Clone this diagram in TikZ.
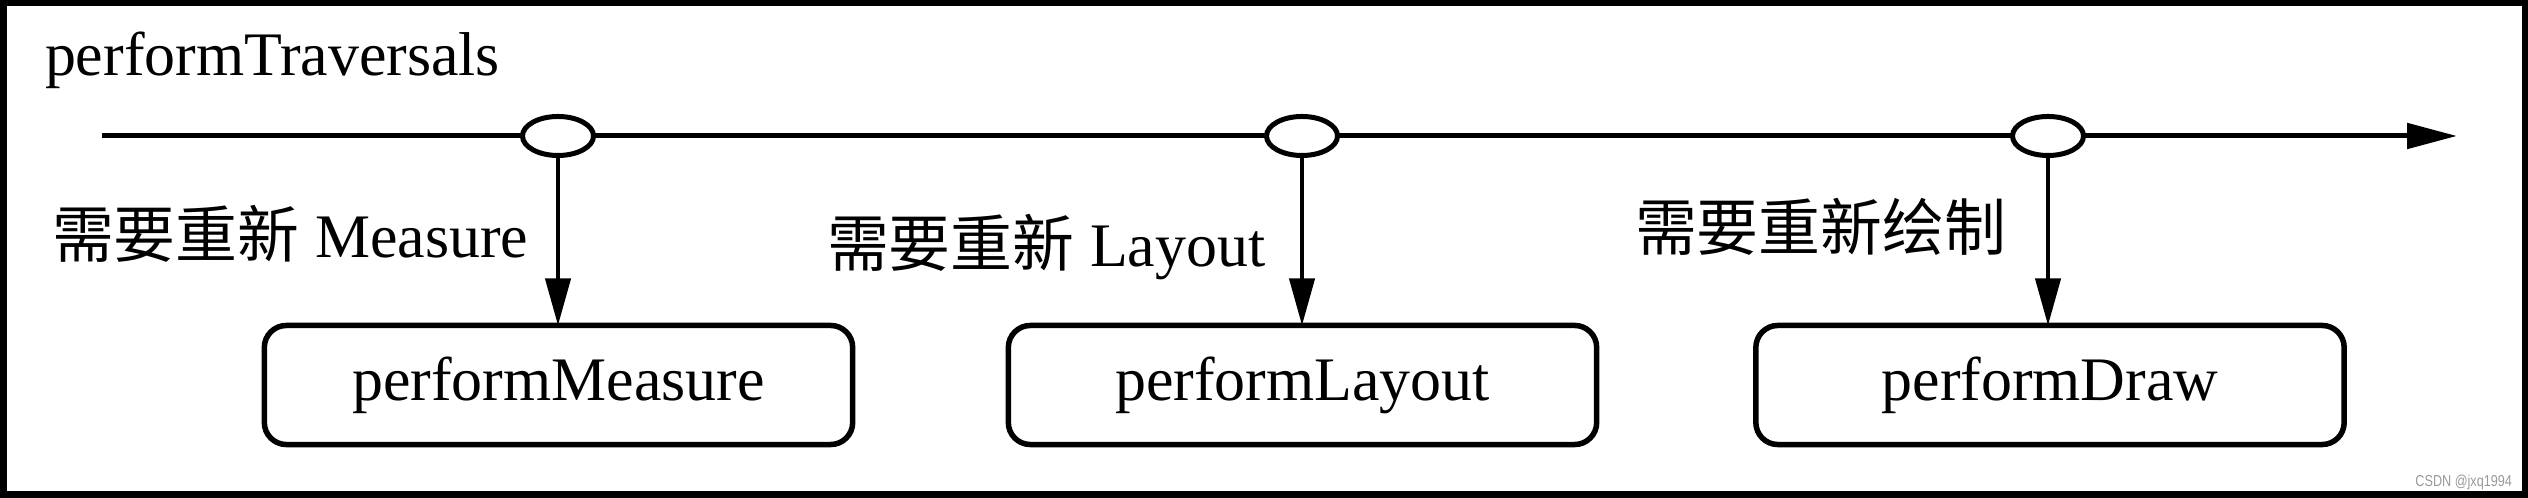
\documentclass[tikz,border=0pt]{standalone}
\usepackage{fontspec}
\setmainfont{Liberation Serif}
\newfontfamily\cjk{Noto Sans CJK SC}
\newfontfamily\wmfont{Liberation Sans}
\usetikzlibrary{arrows.meta,shapes.geometric}
\begin{document}
\begin{tikzpicture}[x=0.01cm,y=-0.01cm,
  every node/.style={inner sep=0pt, outer sep=0pt},
  txt/.style={font=\fontsize{17.6pt}{20pt}\selectfont},
  evt/.style={draw, fill=white, ellipse, line width=0.05cm, minimum width=0.71cm, minimum height=0.39cm},
  proc/.style={draw, rounded corners=0.22cm, line width=0.055cm, minimum width=5.88cm, minimum height=1.19cm, txt},
  flow/.style={line width=0.042cm, -{Triangle[length=0.47cm,width=0.25cm]}},
  axis/.style={line width=0.05cm, -{Triangle[length=0.50cm,width=0.25cm]}},
  frame/.style={line width=0.065cm}
]
\useasboundingbox (0,0) rectangle (2528,498);
\draw[frame] (3.25,3.25) rectangle (2524.75,494.75);

\node[txt, anchor=base west] (title) at (45,76) {performTraversals};

\coordinate (start) at (102,136);
\coordinate (end) at (2457,136);
\draw[axis] (start) -- (end);

\node[evt] (e1) at (558,136) {};
\node[evt] (e2) at (1302,136) {};
\node[evt] (e3) at (2048,136) {};

\node[proc] (b1) at (558.5,385) {performMeasure};
\node[proc] (b2) at (1302.5,385) {performLayout};
\node[proc] (b3) at (2050,385) {performDraw};

\draw[flow] (e1.south) -- (e1.south |- b1.north);
\draw[flow] (e2.south) -- (e2.south |- b2.north);
\draw[flow] (e3.south) -- (e3.south |- b3.north);

\node[txt, anchor=base west] (l1) at (52,258) {{\cjk 需要重新} Measure};
\node[txt, anchor=base west] (l2) at (827,267) {{\cjk 需要重新} Layout};
\node[txt, anchor=base west] (l3) at (1635,251) {{\cjk 需要重新绘制}};

\node[anchor=base east, text=black!40, font=\wmfont\fontsize{4.5pt}{5pt}\selectfont] (wm) at (2512,487) {\scalebox{0.8}[1]{CSDN @jxq1994}};
\end{tikzpicture}
\end{document}
